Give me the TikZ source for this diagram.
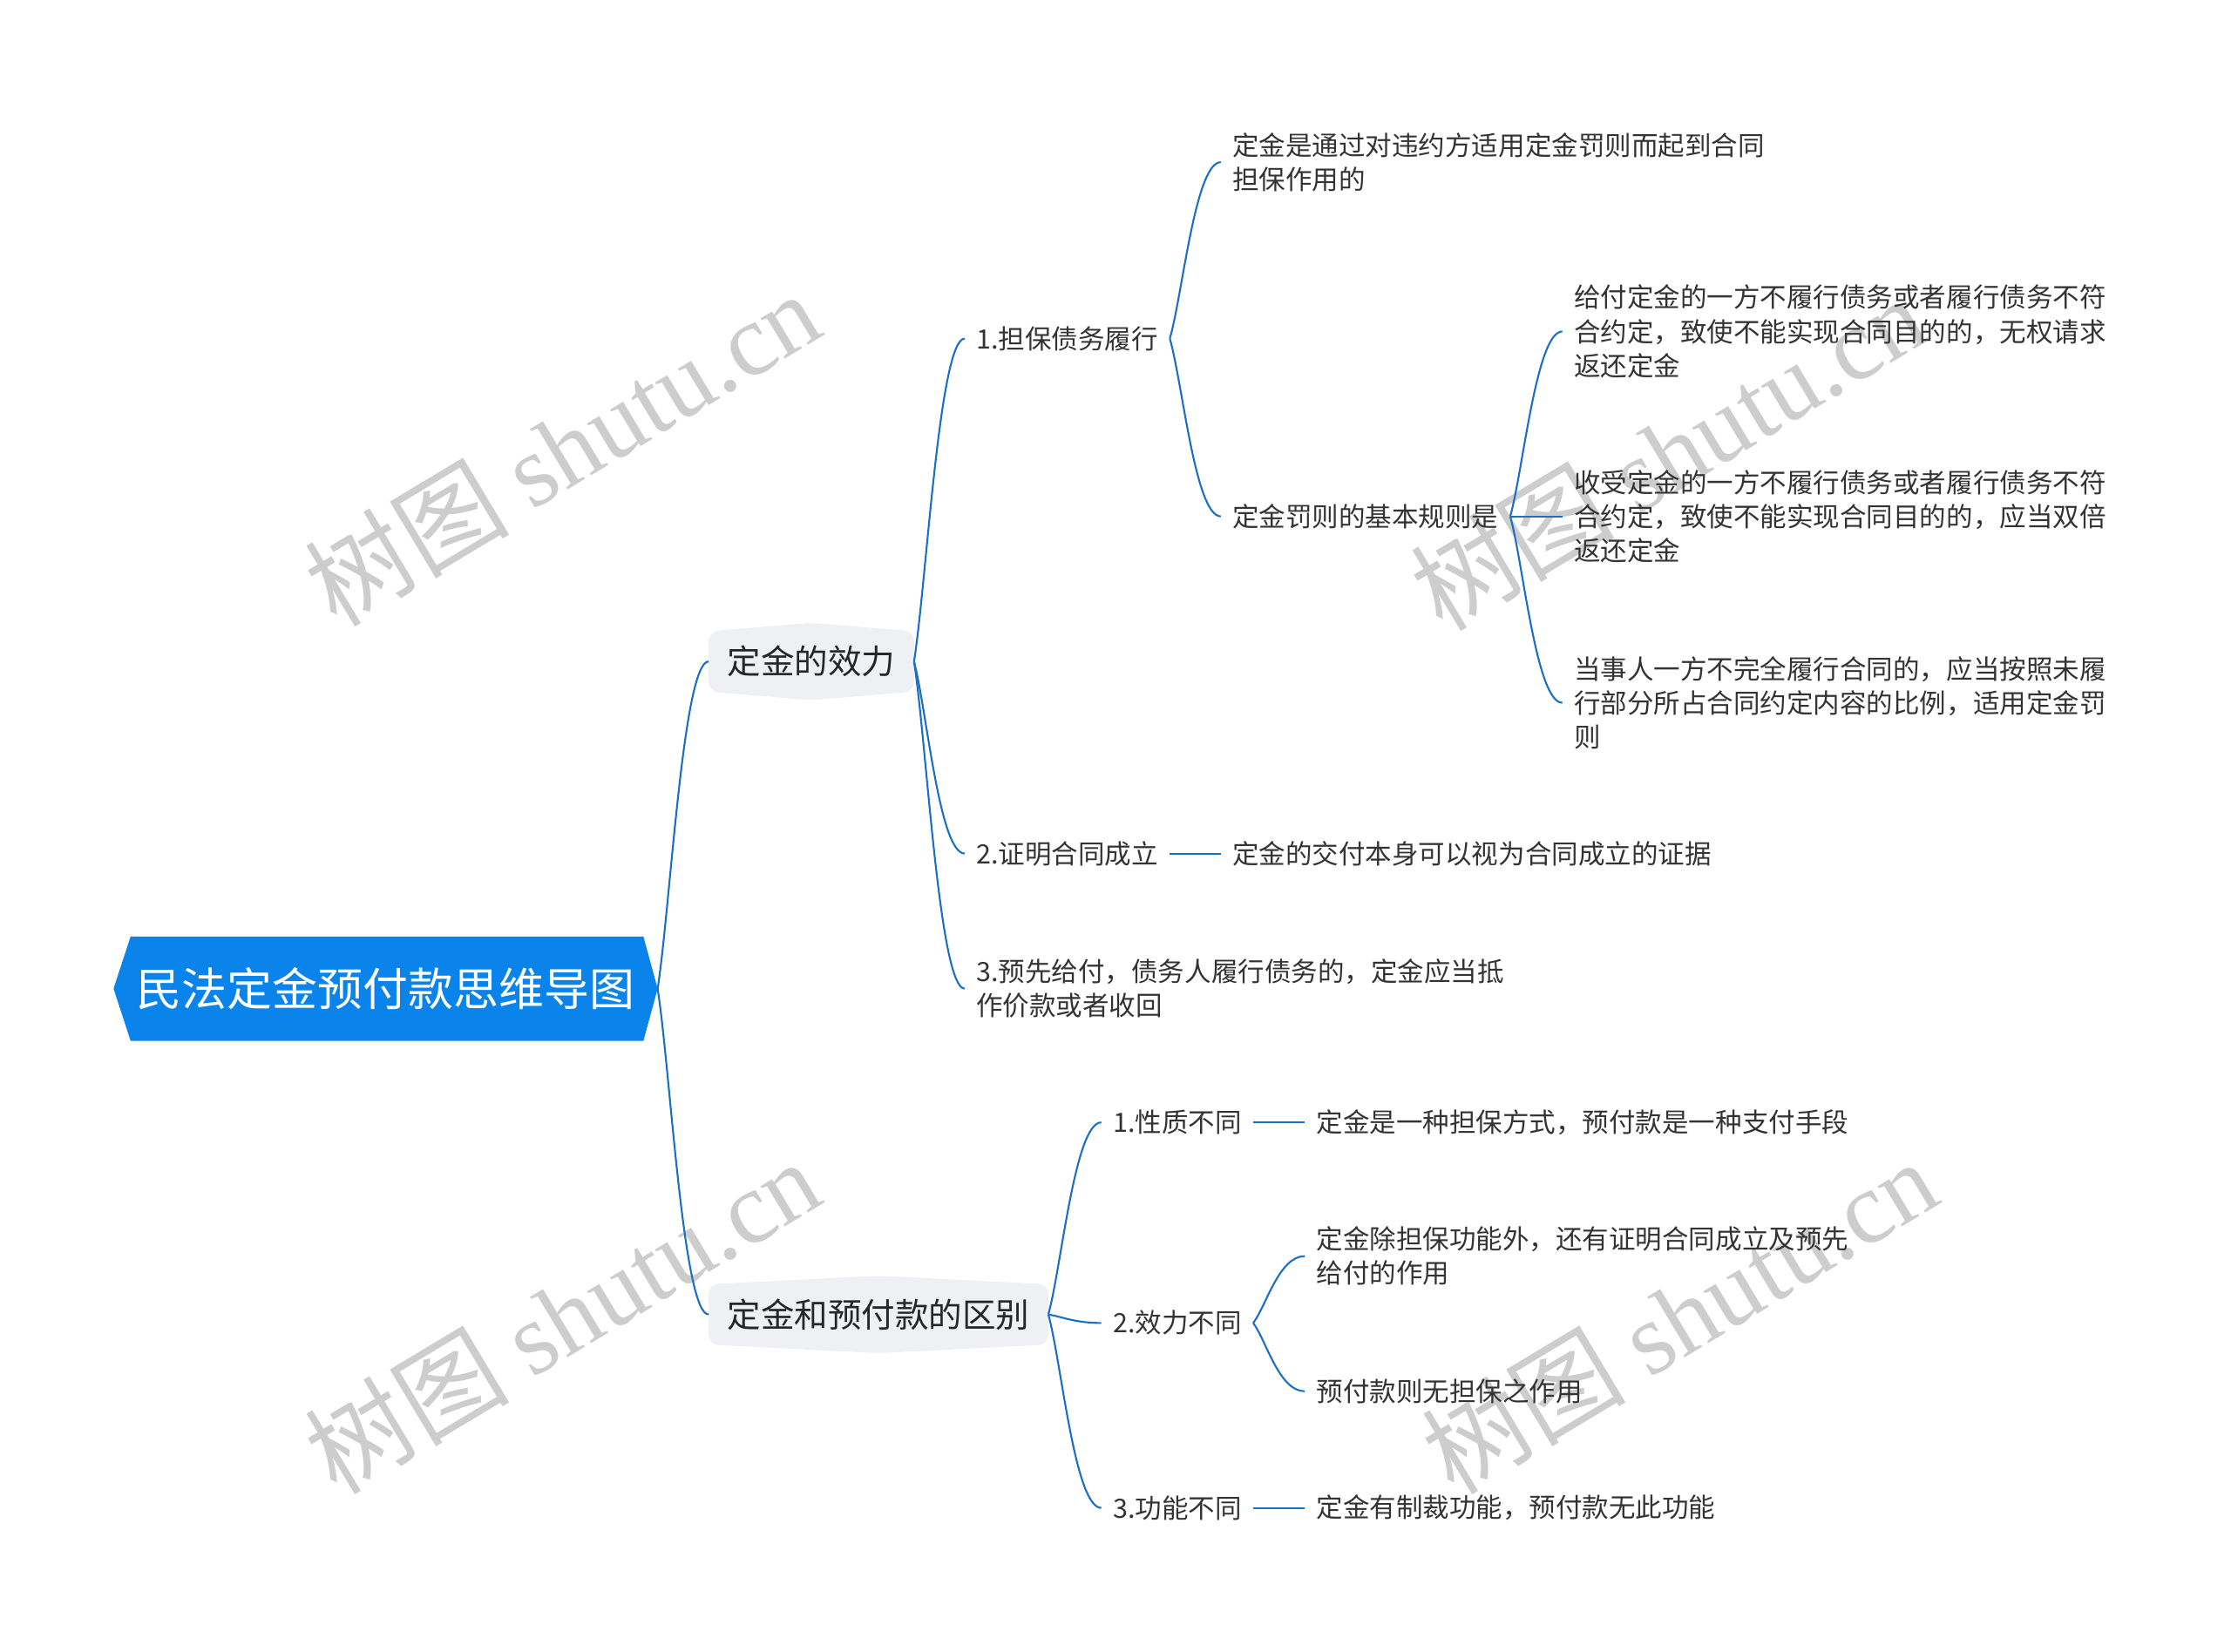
\documentclass[tikz,border=0pt]{standalone}
\usepackage{fontspec}
\setmainfont{Noto Sans CJK SC}
\newfontfamily\wmlatin{Liberation Serif}
\usetikzlibrary{calc,backgrounds}
\definecolor{rootblue}{RGB}{10,132,235}
\definecolor{linkblue}{RGB}{28,112,196}
\definecolor{lonefill}{RGB}{238,240,243}
\definecolor{txt}{RGB}{51,51,51}
\definecolor{wm}{RGB}{205,205,205}
\begin{document}
\begin{tikzpicture}[x=1pt,y=-1pt,
 leaf/.style={anchor=west, inner xsep=8pt, inner ysep=2pt, align=left, text=txt, font=\fontsize{18.7}{24}\selectfont},
 lone/.style={anchor=west, inner xsep=13pt, inner ysep=0pt, minimum height=42pt, text=black!85, font=\fontsize{23.6}{28}\selectfont},
 rootnode/.style={minimum width=382pt, minimum height=73pt, inner sep=0pt, text=white, font=\fontsize{31.8}{36}\selectfont},
 link/.style={draw=linkblue, line width=1.3pt, to path={let \p1=(\tikztostart), \p2=(\tikztotarget) in .. controls ({\x1+0.25*(\x2-\x1)},{\y1+0.25*(\y2-\y1)}) and ({\x2-0.5*(\x2-\x1)},\y2) .. (\tikztotarget)}},
 wmark/.style={text=wm, rotate=31, font=\fontsize{72}{72}\selectfont}
]
\useasboundingbox (0,0) rectangle (1568,1161);

% watermarks
\node[wmark] (w1) at (395,315) {树图 {\wmlatin shutu.cn}};
\node[wmark] (w2) at (1172,318) {树图 {\wmlatin shutu.cn}};
\node[wmark] (w3) at (395,925) {树图 {\wmlatin shutu.cn}};
\node[wmark] (w4) at (1180,925) {树图 {\wmlatin shutu.cn}};

% root
\node[rootnode] (root) at (271,695) {民法定金预付款思维导图};

% level 1
\node[lone] (a) at (498,465) {定金的效力};
\node[lone] (b) at (498,924) {定金和预付款的区别};

% branch a
\node[leaf] (a1) at (678,238) {1.担保债务履行};
\node[leaf] (a2) at (678,600) {2.证明合同成立};
\node[leaf] (a3) at (678,695) {3.预先给付，债务人履行债务的，定金应当抵\\作价款或者收回};
\node[leaf] (a11) at (858,114) {定金是通过对违约方适用定金罚则而起到合同\\担保作用的};
\node[leaf] (a12) at (858,363) {定金罚则的基本规则是};
\node[leaf] (a121) at (1098,233) {给付定金的一方不履行债务或者履行债务不符\\合约定，致使不能实现合同目的的，无权请求\\返还定金};
\node[leaf] (a122) at (1098,363) {收受定金的一方不履行债务或者履行债务不符\\合约定，致使不能实现合同目的的，应当双倍\\返还定金};
\node[leaf] (a123) at (1098,494) {当事人一方不完全履行合同的，应当按照未履\\行部分所占合同约定内容的比例，适用定金罚\\则};
\node[leaf] (a21) at (858,600) {定金的交付本身可以视为合同成立的证据};

% branch b
\node[leaf] (b1) at (774,789) {1.性质不同};
\node[leaf] (b2) at (774,930) {2.效力不同};
\node[leaf] (b3) at (774,1060) {3.功能不同};
\node[leaf] (b11) at (917,789) {定金是一种担保方式，预付款是一种支付手段};
\node[leaf] (b21) at (917,883) {定金除担保功能外，还有证明合同成立及预先\\给付的作用};
\node[leaf] (b22) at (917,978) {预付款则无担保之作用};
\node[leaf] (b31) at (917,1060) {定金有制裁功能，预付款无此功能};

% backgrounds of boxes
\begin{scope}[on background layer]
\fill[rootblue] (root.west) -- ([xshift=12pt]root.north west) -- ([xshift=-10pt]root.north east) -- (root.east) -- ([xshift=-10pt]root.south east) -- ([xshift=12pt]root.south west) -- cycle;
\foreach \n in {a,b}{
\fill[lonefill, rounded corners=7pt] (\n.north west) -- ([yshift=6pt]\n.north) -- (\n.north east) -- (\n.south east) -- ([yshift=-6pt]\n.south) -- (\n.south west) -- cycle;
}
\end{scope}

% connectors
\draw[link] (root.east) to (a.west);
\draw[link] (root.east) to (b.west);
\draw[link] (a.east) to (a1.west);
\draw[link] (a.east) to (a2.west);
\draw[link] (a.east) to (a3.west);
\draw[link] (a1.east) to (a11.west);
\draw[link] (a1.east) to (a12.west);
\draw[link] (a12.east) to (a121.west);
\draw[link] (a12.east) to (a122.west);
\draw[link] (a12.east) to (a123.west);
\draw[link] (a2.east) to (a21.west);
\draw[link] (b.east) to (b1.west);
\draw[link] (b.east) to (b2.west);
\draw[link] (b.east) to (b3.west);
\draw[link] (b1.east) to (b11.west);
\draw[link] (b2.east) to (b21.west);
\draw[link] (b2.east) to (b22.west);
\draw[link] (b3.east) to (b31.west);
\end{tikzpicture}
\end{document}
